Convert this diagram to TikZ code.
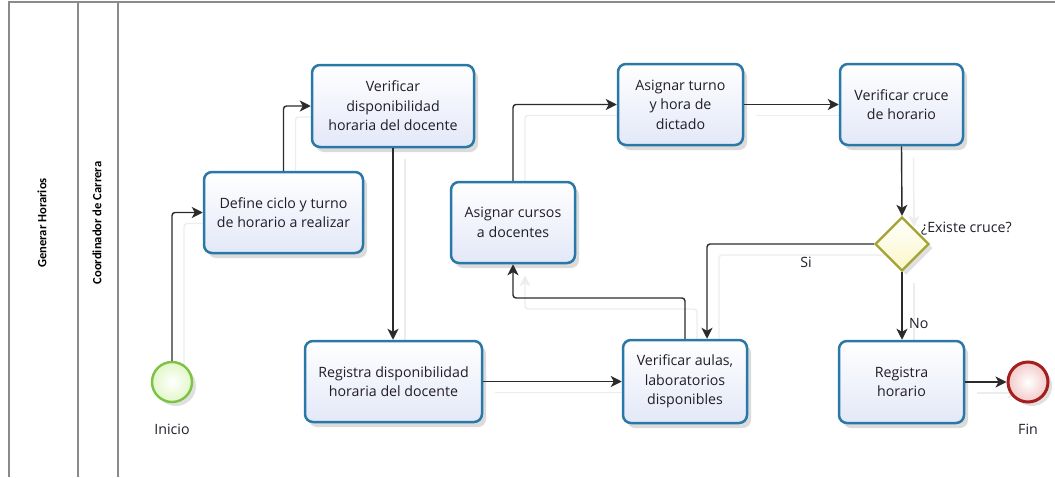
\documentclass[tikz,border=0pt]{standalone}
\usepackage{fontspec}
\setmainfont{Open Sans}
\newfontfamily\lanefont{Carlito}
\usetikzlibrary{arrows.meta,shapes.geometric,shadows,calc,backgrounds}
\definecolor{taskborder}{HTML}{2A78A8}
\definecolor{taskbot}{HTML}{E3E8F8}
\definecolor{flowcol}{HTML}{2B2B2B}
\definecolor{txt}{HTML}{221D28}
\definecolor{startb}{HTML}{7DC243}
\definecolor{startf}{HTML}{E2F7C8}
\definecolor{endb}{HTML}{A51E1E}
\definecolor{endf}{HTML}{F3C9C9}
\definecolor{gwb}{HTML}{A3A431}
\definecolor{gwf}{HTML}{FAF7C8}
\definecolor{framec}{HTML}{8A8A8A}
\newcommand{\allflows}{%
\draw[flow] (start.north) |- (define.west);
\draw[flow] (define.north) |- (verdisp.west);
\draw[flow] (verdisp.south) -- (verdisp.south |- regdisp.north);
\draw[flow] (regdisp.east) -- (regdisp.east -| aulas.west);
\draw[flow] (aulas.north) -- (aulas.north |- m1) -| (cursos.south);
\draw[flow] (cursos.north) |- (turno.west);
\draw[flow] (turno.east) -- (verc.west);
\draw[flow] (verc.south) -- (gw.north);
\draw[flow] (gw.west) -| (aulasin);
\draw[flow] (gw.south) -- (gw.south |- reghor.north);
\draw[flow] (reghor.east) -- (fin.west);
}
\begin{document}
\begin{tikzpicture}[x=1pt,y=-1pt,
  task/.style={rectangle, rounded corners=8pt, draw=taskborder, line width=2.5pt,
    top color=white, bottom color=taskbot, align=center, text=txt,
    font=\fontsize{14.2}{19.5}\selectfont, inner sep=2pt,
    drop shadow={shadow xshift=4pt, shadow yshift=-5pt, opacity=0.14, fill=black}},
  flow/.style={draw=flowcol, line width=1.4pt, rounded corners=3pt,
    -{Stealth[length=11pt,width=11pt,inset=3pt]}},
  lbl/.style={text=txt, font=\fontsize{14.2}{17}\selectfont, inner sep=0pt},
  lane/.style={rotate=90, font=\lanefont\bfseries\fontsize{12.6}{14}\selectfont, text=black}
]
\useasboundingbox (0,0) rectangle (1055,477);
% frame
\draw[draw=framec, line width=1.6pt] (1055,2) -- (9,2) -- (9,477);
\draw[draw=framec, line width=1.4pt] (78,2) -- (78,477);
\draw[draw=framec, line width=1.4pt] (118,2) -- (118,477);
\node[lane] (pool) at (42,223) {Generar Horarios};
\node[lane] (lanelbl) at (97,223) {Coordinador de Carrera};

% events
\node[circle, minimum size=40pt, inner sep=0pt, draw=startb, line width=2.4pt,
  inner color=white, outer color=startf,
  drop shadow={shadow xshift=4pt, shadow yshift=-4pt, opacity=0.12, fill=black}] (start) at (172,382) {};
\node[lbl] (startlbl) at (172,429) {Inicio};
\node[circle, minimum size=40pt, inner sep=0pt, draw=endb, line width=3pt,
  inner color=white, outer color=endf,
  drop shadow={shadow xshift=4pt, shadow yshift=-4pt, opacity=0.12, fill=black}] (fin) at (1028,382) {};
\node[lbl] (finlbl) at (1028,429) {Fin};

% tasks
\node[task, minimum width=159pt, minimum height=81pt] (define) at (283.5,212.5) {Define ciclo y turno\\de horario a realizar};
\node[task, minimum width=162pt, minimum height=82pt] (verdisp) at (393,106) {Verificar\\disponibilidad\\horaria del docente};
\node[task, minimum width=177pt, minimum height=81pt] (regdisp) at (393.5,381.5) {Registra disponibilidad\\horaria del docente};
\node[task, minimum width=124pt, minimum height=81pt] (cursos) at (513,222.5) {Asignar cursos\\a docentes};
\node[task, minimum width=125pt, minimum height=81pt] (turno) at (680.5,104.5) {Asignar turno\\y hora de\\dictado};
\node[task, minimum width=123pt, minimum height=81pt] (verc) at (901.5,104.5) {Verificar cruce\\de horario};
\node[task, minimum width=124pt, minimum height=83pt] (aulas) at (685,381.5) {Verificar aulas,\\laboratorios\\disponibles};
\node[task, minimum width=125pt, minimum height=82pt] (reghor) at (901.5,382) {Registra\\horario};

% gateway
\node[diamond, aspect=1, minimum width=54pt, minimum height=54pt, inner sep=0pt,
  draw=gwb, line width=2.4pt, top color=white, bottom color=gwf,
  drop shadow={shadow xshift=4pt, shadow yshift=-4pt, opacity=0.12, fill=black}] (gw) at (902,244) {};
\node[lbl, anchor=west] (gwlbl) at (921,229) {¿Existe cruce?};

% helper coordinates
\coordinate (m1) at (0,298);
\coordinate (aulasin) at ($(aulas.north)+(22,0)$);

% faint connector shadows, behind everything
\begin{scope}[on background layer]
\begin{scope}[transform canvas={shift={(12pt,-11pt)}}]
\colorlet{flowcol}{black!7}
\allflows
\end{scope}
\end{scope}

% connectors
\allflows

% labels
\node[lbl] (si) at (806,262) {Si};
\node[lbl, anchor=west] (no) at (909,323) {No};
\end{tikzpicture}
\end{document}
